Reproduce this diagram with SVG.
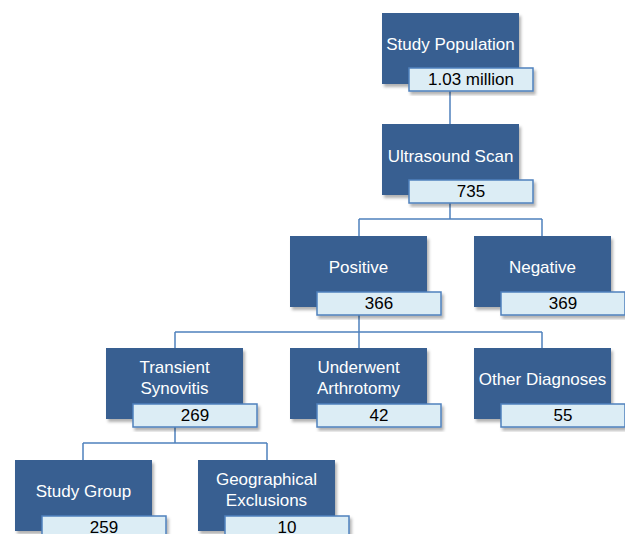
<svg xmlns="http://www.w3.org/2000/svg" width="625" height="534" viewBox="0 0 625 534">
<defs>
<filter id="sh" x="-10%" y="-10%" width="130%" height="130%">
<feDropShadow dx="2" dy="3" stdDeviation="1.5" flood-color="#000" flood-opacity="0.3"/>
</filter>
<style>
.box{fill:#385F91;filter:url(#sh)}
.lab{fill:#DCEDF5;stroke:#4F81BD;stroke-width:1.5;filter:url(#sh)}
.t{font-family:"Liberation Sans",Arial,sans-serif;font-size:17px;fill:#FFFFFF;text-anchor:middle}
.n{font-family:"Liberation Sans",Arial,sans-serif;font-size:17px;fill:#000000;text-anchor:middle}
.c{fill:none;stroke:#4F81BD;stroke-width:1.5}
</style>
</defs>
<rect width="625" height="534" fill="#FFFFFF"/>
<g id="connectors">
<path class="c" d="M450 91V124"/>
<path class="c" d="M450 203V219M359 219H542M359 219V236M542 219V236"/>
<path class="c" d="M359 315V332M175 332H542M175 332V348M359 332V348M542 332V348"/>
<path class="c" d="M175 427V443M83 443H267M83 443V460M267 443V460"/>
</g>
<g id="study-population">
<rect class="box" x="382" y="13" width="137" height="71"/>
<text class="t" x="450.5" y="50">Study Population</text>
<rect class="lab" x="409" y="68" width="124" height="23"/>
<text class="n" x="471" y="85">1.03 million</text>
</g>
<g id="ultrasound-scan">
<rect class="box" x="382" y="124" width="137" height="71"/>
<text class="t" x="450.5" y="162">Ultrasound Scan</text>
<rect class="lab" x="409" y="180" width="124" height="23"/>
<text class="n" x="471" y="197">735</text>
</g>
<g id="positive">
<rect class="box" x="290" y="236" width="137" height="71"/>
<text class="t" x="358.5" y="273">Positive</text>
<rect class="lab" x="317" y="292" width="124" height="23"/>
<text class="n" x="379" y="309">366</text>
</g>
<g id="negative">
<rect class="box" x="474" y="236" width="137" height="71"/>
<text class="t" x="542.5" y="273">Negative</text>
<rect class="lab" x="501" y="292" width="124" height="23"/>
<text class="n" x="563" y="309">369</text>
</g>
<g id="transient-synovitis">
<rect class="box" x="106" y="348" width="137" height="71"/>
<text class="t" x="174.5" y="373">Transient</text>
<text class="t" x="174.5" y="394">Synovitis</text>
<rect class="lab" x="133" y="404" width="124" height="23"/>
<text class="n" x="195" y="421">269</text>
</g>
<g id="underwent-arthrotomy">
<rect class="box" x="290" y="348" width="137" height="71"/>
<text class="t" x="358.5" y="373">Underwent</text>
<text class="t" x="358.5" y="394">Arthrotomy</text>
<rect class="lab" x="317" y="404" width="124" height="23"/>
<text class="n" x="379" y="421">42</text>
</g>
<g id="other-diagnoses">
<rect class="box" x="474" y="348" width="137" height="71"/>
<text class="t" x="542.5" y="385">Other Diagnoses</text>
<rect class="lab" x="501" y="404" width="124" height="23"/>
<text class="n" x="563" y="421">55</text>
</g>
<g id="study-group">
<rect class="box" x="15" y="460" width="137" height="71"/>
<text class="t" x="83.5" y="497">Study Group</text>
<rect class="lab" x="42" y="516" width="124" height="23"/>
<text class="n" x="104" y="533">259</text>
</g>
<g id="geographical-exclusions">
<rect class="box" x="198" y="460" width="137" height="71"/>
<text class="t" x="266.5" y="485">Geographical</text>
<text class="t" x="266.5" y="506">Exclusions</text>
<rect class="lab" x="225" y="516" width="124" height="23"/>
<text class="n" x="287" y="533">10</text>
</g>
</svg>
